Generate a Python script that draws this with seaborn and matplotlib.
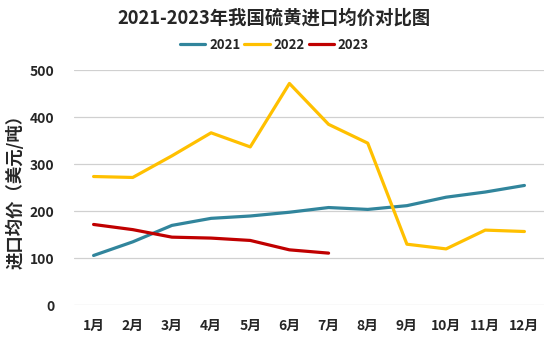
import matplotlib
matplotlib.use("Agg")
import matplotlib.pyplot as plt
import seaborn as sns
import pandas as pd

months = ["1月", "2月", "3月", "4月", "5月", "6月", "7月", "8月", "9月", "10月", "11月", "12月"]
v2021 = [106, 135, 170, 185, 190, 198, 208, 204, 212, 230, 241, 255]
v2022 = [274, 272, 318, 367, 337, 472, 385, 345, 130, 120, 160, 157]
v2023 = [172, 161, 145, 143, 138, 118, 111]
yticks = [0, 100, 200, 300, 400, 500]

rows = []
for name, vals in (("2021", v2021), ("2022", v2022), ("2023", v2023)):
    for m, v in zip(months, vals):
        rows.append({"月份": m, "价格": v, "年份": name})
df = pd.DataFrame(rows)

sns.set_theme(style="white")
plt.rcParams["font.family"] = ["Noto Sans CJK SC", "DejaVu Sans"]

fig = plt.figure(figsize=(5.49, 3.39), dpi=100)
ax = fig.add_axes([74/549, 1-305.3/339, (544-74)/549, (305.3-70.3)/339])

palette = {"2021": "#31859C", "2022": "#FFC000", "2023": "#C00000"}
sns.lineplot(data=df, x="月份", y="价格", hue="年份", palette=palette,
             linewidth=2.3, sort=False, ax=ax, legend=True)

ax.set_xlim(-0.5, len(months) - 0.5)
ax.set_ylim(0, 500)
ax.set_yticks(yticks)
ax.set_yticklabels([str(t) for t in yticks], fontsize=10, fontweight="bold")
ax.set_xticks(range(len(months)))
ax.set_xticklabels(months, fontsize=10, fontweight="bold")
ax.tick_params(axis="both", length=0)
ax.tick_params(axis="y", pad=14)
ax.tick_params(axis="x", pad=10)
ax.yaxis.grid(True, color="#D0D0D0", linewidth=0.9)
ax.xaxis.grid(False)
for s in ["top", "right", "left", "bottom"]:
    ax.spines[s].set_visible(False)
ax.set_xlabel("")
ax.set_ylabel("进口均价（美元/吨）", fontsize=12.5, fontweight="bold", labelpad=4)

leg = ax.legend(loc="center", bbox_to_anchor=(0.5, 1-45/339), bbox_transform=fig.transFigure,
                ncol=3, frameon=False, handlelength=1.9, handletextpad=0.3,
                columnspacing=0.3, prop={"size": 9.5, "weight": "bold"})
fig.text(0.5, 1-18/339, "2021-2023年我国硫黄进口均价对比图", ha="center", va="center",
         fontsize=13.2, fontweight="bold")

fig.savefig("out.png", dpi=100)
